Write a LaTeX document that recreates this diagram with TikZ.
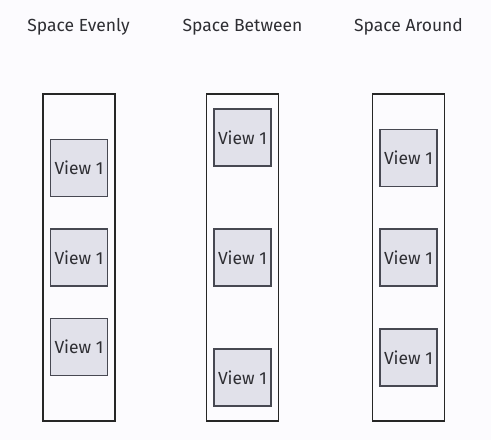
\documentclass[tikz,border=0pt]{standalone}
\usepackage{fontspec}
\setmainfont{Fira Sans}
\usepackage{xcolor}
\usetikzlibrary{positioning}

\definecolor{bgcol}{HTML}{FCFBFE}
\definecolor{boxfill}{HTML}{E1E1EA}
\definecolor{boxline}{HTML}{474852}
\definecolor{txtcol}{HTML}{2E2E33}

\begin{document}
\begin{tikzpicture}[
    x=1pt,
    y=-1pt,
    every node/.style={text=txtcol, font=\fontsize{17.5}{20}\selectfont},
    title/.style={inner sep=0pt},
    container/.style={draw=black!85, line width=1.6pt, minimum width=72pt, minimum height=327pt, inner sep=0pt},
    view/.style={draw=boxline, fill=boxfill, line width=1.6pt, minimum size=57pt, inner sep=0pt}
]

% Background
\fill[bgcol] (0,0) rectangle (491,440);
\useasboundingbox (0,0) rectangle (491,440);

% Titles
\node[title] (T1) at (78.5,27) {Space Evenly};
\node[title] (T2) at (242.5,27) {Space Between};
\node[title] (T3) at (408.5,27) {Space Around};

% Containers
\node[container] (C1) at (79,257.5) {};
\node[container] (C2) at (242.5,257.5) {};
\node[container] (C3) at (408.5,257.5) {};

% Views
\node[view] (E1) at (79,168) {View 1};
\node[view] (E2) at (79,257.5) {View 1};
\node[view] (E3) at (79,347) {View 1};

\node[view] (B1) at (242.5,137.5) {View 1};
\node[view] (B2) at (242.5,257.5) {View 1};
\node[view] (B3) at (242.5,377.5) {View 1};

\node[view] (A1) at (408.5,158) {View 1};
\node[view] (A2) at (408.5,257.5) {View 1};
\node[view] (A3) at (408.5,357.5) {View 1};

\end{tikzpicture}
\end{document}
